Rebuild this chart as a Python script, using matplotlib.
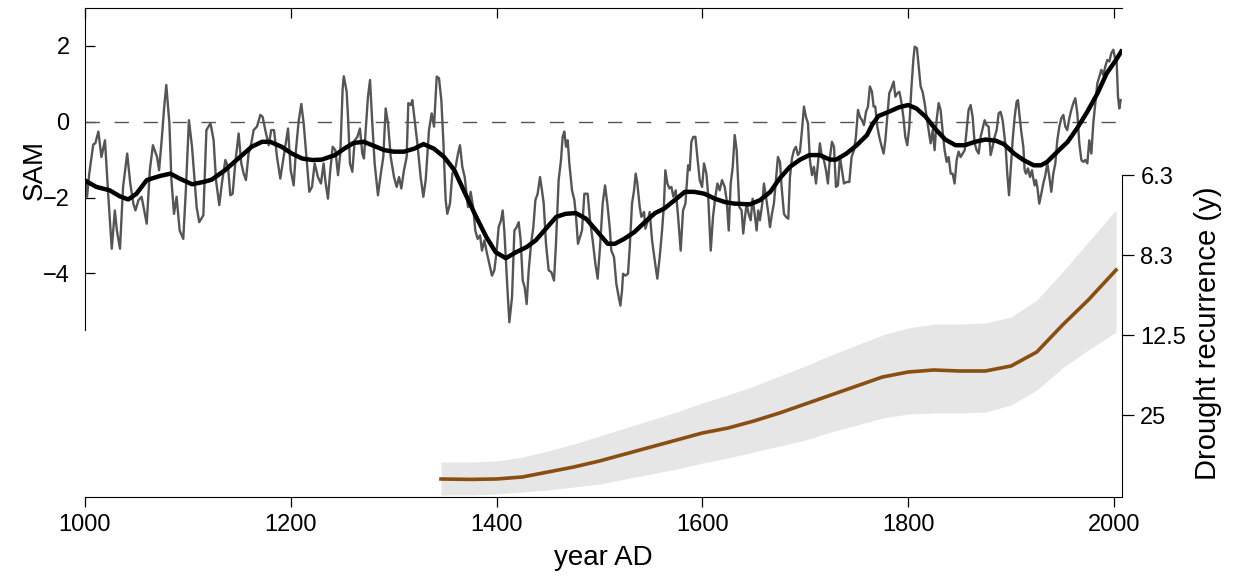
import numpy as np
import matplotlib
matplotlib.use('Agg')
from matplotlib import pyplot as plt

plt.rcParams['font.family'] = ['Liberation Sans', 'DejaVu Sans']
plt.rcParams['lines.scale_dashes'] = False

# SAM reconstruction (gray, high frequency)
sam_years = [1000.5, 1002, 1004, 1008, 1010, 1013, 1016, 1019.4, 1022.7, 1026, 1029, 1031, 1034, 1037, 1041,
             1044, 1047, 1049, 1052, 1055, 1060, 1063, 1066, 1070, 1072, 1074.5, 1077, 1079, 1082, 1084,
             1086.5, 1089, 1092, 1095.5, 1098, 1101, 1104, 1108.5, 1111, 1115, 1118, 1122,
             1125, 1127.3, 1130.5, 1133, 1136.4, 1139, 1141.2, 1143.5, 1146, 1149.3, 1151.9, 1154.2, 1156.4,
             1159, 1161.6, 1163.9, 1167.1, 1170.4, 1172.6, 1175.2, 1178.5, 1181, 1183.7, 1186.6, 1189.8,
             1192.1, 1194.7, 1197.3, 1199.9, 1202.8, 1205, 1207.6, 1210.2, 1212.5, 1215.7, 1218, 1220.6,
             1223.2, 1226.4, 1229.3, 1231.9, 1233.5, 1236.1, 1238.4, 1240.7, 1243.3, 1245.9, 1248.1, 1250.4,
             1251.5, 1254.3, 1255.6, 1257.5, 1259.8, 1262.1, 1264.7, 1267.2, 1269.5, 1271.1, 1272.8, 1275,
             1277, 1279.2, 1281.5, 1284.7, 1287.3, 1289.9, 1292.2, 1294.5, 1297.1, 1300.3, 1302.9, 1305.2,
             1307.4, 1310, 1312.6, 1314.2, 1316.5, 1318.1, 1320.4, 1323, 1326.2, 1328.8, 1331.1, 1334.3,
             1336.9, 1339.2, 1341.8, 1344, 1346.3, 1348.2, 1350.5, 1352.1, 1354.7, 1357, 1360.2, 1362.5,
             1364.4, 1366.7, 1369, 1372.2, 1374.8, 1377.4, 1379.3,
             1381.6, 1383.9, 1385.8, 1388.1, 1390.4, 1393, 1395.5, 1397.8, 1400.1, 1402, 1404.3, 1405.9,
             1407.5, 1409.2, 1410.8, 1412.4, 1415, 1417.3, 1419.5, 1421.5, 1423.4, 1425.4, 1427.3, 1429.2,
             1431.2, 1433.5, 1435.7, 1437.7, 1439.9, 1442.2, 1444.1, 1445.8, 1448, 1450.6, 1453.2, 1455.8,
             1457.7, 1460.3, 1462.6, 1464.2, 1465.8, 1467.5, 1469.1, 1470.7, 1473.3, 1475.6, 1477.2, 1479.1,
             1481.1, 1483, 1485.3, 1488.5, 1490.8, 1493.4, 1496, 1498.2, 1500.5, 1503.1, 1505.4, 1507.6,
             1509.9, 1511.5, 1514.1, 1516.4, 1518.7, 1520.3, 1521.9, 1522.9, 1525.1, 1527.7, 1529.4, 1531.6,
             1533.6, 1535.2, 1536.8, 1539.1, 1540.7, 1543.3, 1544.6, 1546.5, 1548.8, 1551.1, 1553.7, 1556.2,
             1558.5, 1560.8, 1562.7, 1564, 1566, 1567.9, 1569.9, 1571.8, 1574.1, 1576.3, 1578.9, 1581.2,
             1583.5, 1586.1, 1587.7, 1589.3, 1591.2, 1593.2, 1595.1, 1597.4, 1599.7, 1601.6, 1603.9, 1605.5,
             1608.1, 1610.3, 1612.6, 1614.6, 1616.8, 1619.1, 1621.7, 1623.6, 1625.6, 1627.5, 1629.5, 1631.4,
             1633.3, 1635.9,
             1638.1, 1639.7, 1641.4, 1643, 1644.9, 1646.9, 1648.8, 1650.8, 1652.7, 1654.3, 1655.9, 1658.2,
             1659.8, 1661.8, 1663.7, 1665.7, 1667.6, 1669.5, 1671.5, 1673.4, 1675.4, 1677, 1679.3, 1681.2,
             1683.5, 1685.1, 1687, 1689, 1690.9, 1692.9, 1694.8, 1696.8, 1698.7, 1700.6, 1702.6, 1704.5,
             1706.5, 1708.4, 1710.4, 1712.3, 1714.2, 1716.2, 1718.1, 1720.1, 1722, 1724, 1725.9, 1727.9,
             1729.8, 1731.7, 1733.7, 1735.6, 1737.6, 1740.2, 1742.8, 1745, 1747.3, 1749.2, 1751.2, 1753.1,
             1755.1, 1757, 1759, 1760.9, 1762.8,
             1764.8, 1766.4, 1768, 1770, 1771.9, 1773.9, 1776.1, 1777.8, 1779.7, 1781.6, 1783.6, 1785.9,
             1787.5, 1789.4, 1791.4, 1793.3, 1795.3, 1797.2, 1799.1, 1801.1, 1803, 1805, 1806.3, 1808.5,
             1810.2, 1812.1, 1814, 1816, 1817.9, 1819.9, 1821.8, 1823.8, 1825.7, 1827.6, 1829.6, 1831.5,
             1833.5, 1835.4, 1837.4, 1839.3, 1841.3, 1843.2, 1845.1, 1847.1, 1849, 1851, 1852.9, 1854.9,
             1856.8, 1858.7, 1860.7, 1862.6, 1864.6, 1866.5, 1868.5, 1870.4, 1872.4, 1874.3, 1876.2, 1878.2,
             1880.1, 1882.1, 1884, 1886, 1887.9, 1889.8, 1891.8,
             1894.7, 1896.3, 1898, 1899.6, 1901.5, 1903.5, 1905.4, 1906.7, 1908, 1909.9, 1911.9, 1913.2,
             1914.5, 1916.4, 1918.4, 1920.3, 1921.6, 1922.9, 1924.2, 1925.5, 1927.4, 1929.4, 1931.3, 1933.3,
             1935.2, 1937.2, 1939.1, 1941, 1943, 1944.9, 1946.9, 1948.8, 1950.8, 1952.7, 1954.6, 1956.6,
             1958.5, 1960.5, 1962.4, 1964.4, 1966.3, 1968.3, 1970.2, 1972.1, 1974.1, 1976, 1978, 1979.9,
             1981.9, 1983.8, 1985.7, 1987.7, 1989.6, 1991.6, 1993.5, 1995.5, 1997.4, 1999.4, 2001.3, 2002.6,
             2003.9, 2005.2, 2006.5]
sam_values = [-1.55, -1.98, -1.4, -0.6, -0.57, -0.26, -0.93, -0.49, -1.98, -3.35, -2.34, -2.87, -3.35, -1.72, -0.84,
              -1.63, -2.16, -2.34, -2.07, -1.98, -2.69, -1.28, -0.62, -0.93, -1.28, -0.49, 0.40, 0.97, -0.04, -1.54,
              -2.43, -1.98, -2.87, -3.09, -1.81, 0.04, -0.66, -2.25, -2.65, -2.47, -0.22, -0.04,
              -0.49, -1.54, -2.20, -1.63, -1.01, -1.19, -1.94, -1.90, -1.10, -0.31, -1.10, -1.37, -1.54,
              -0.84, -0.57, -0.22, -0.13, 0.18, 0.13, -0.22, -0.62, -0.22, -0.22, -0.93, -1.50,
              -1.10, -0.66, -0.18, -1.28, -1.68, -0.75, 0.0, 0.47, -0.04, -1.10, -1.85, -1.72,
              -1.10, -1.46, -1.63, -1.10, -1.54, -2.03, -1.28, -0.66, -0.75, -1.41, -0.84, 0.88,
              1.2, 0.79, 0.13, -1.10, -1.32, -0.49, -0.40, -0.18, -0.84, -0.97, -0.22, 0.66,
              1.10, -0.04, -1.10, -1.94, -1.41, -0.93, 0.35, -0.04, -0.93, -1.46, -1.72, -1.46,
              -1.76, -1.28, -0.93, 0.49, 0.44, 0.57, 0.04, -0.57, -1.46, -1.98, -1.54, -0.22,
              0.22, -0.13, 1.19, 1.15, 0.57, -0.49, -2.07, -2.43, -2.16, -1.37, -1.19, -0.84,
              -0.62, -1.19, -1.46, -2.25, -1.85, -2.29, -2.87,
              -3.09, -3.00, -3.40, -3.13, -3.44, -3.75, -4.06, -3.92, -3.40, -2.78, -2.60, -2.34,
              -2.87, -3.75, -4.54, -5.29, -4.63, -2.87, -2.78, -2.65, -3.13, -4.19, -4.37, -4.81,
              -3.92, -3.22, -2.78, -2.07, -1.90, -1.46, -1.81, -2.16, -3.22, -3.92, -3.97, -4.19,
              -3.22, -1.54, -1.01, -0.40, -0.26, -0.66, -0.49, -1.10, -1.81, -2.07, -2.51, -3.22,
              -3.04, -2.87, -1.90, -1.90, -2.60, -3.13, -3.75, -4.14, -3.31, -2.16, -1.68, -2.16,
              -2.78, -3.40, -3.57, -4.28, -4.63, -4.85, -4.45, -4.01, -4.06, -4.01, -3.31, -2.16,
              -1.81, -1.37, -1.63, -2.25, -2.51, -2.38, -2.82, -2.65, -2.38, -3.13, -3.66, -4.14,
              -3.57, -2.87, -2.16, -1.28, -1.63, -1.76, -1.72, -1.98, -1.81, -2.47, -3.40, -2.34,
              -2.16, -1.15, -1.28, -0.53, -0.40, -0.40, -0.93, -1.54, -1.72, -1.10, -1.37, -1.90,
              -3.40, -2.51, -1.98, -1.63, -1.81, -1.54, -1.72, -2.07, -2.87, -1.63, -1.19, -0.35,
              -0.75, -2.25,
              -2.34, -2.95, -2.51, -2.16, -2.43, -2.60, -2.03, -2.43, -2.87, -2.34, -2.60, -2.16,
              -1.63, -1.98, -2.34, -2.78, -2.43, -2.16, -1.54, -0.93, -1.06, -1.72, -2.43, -2.51,
              -2.56, -1.46, -0.97, -0.75, -0.66, -0.88, -0.79, -0.22, 0.40, 0.13, -0.04, -1.01,
              -1.41, -1.19, -1.63, -1.10, -0.57, -0.93, -1.01, -1.28, -1.63, -0.93, -0.53, -0.66,
              -1.72, -1.68, -0.93, -1.28, -1.63, -1.59, -1.59, -0.93, -0.75, -0.40, 0.31, 0.13,
              0.04, -0.09, 0.26, 0.40, 0.93,
              0.79, 0.40, 0.40, -0.13, -0.40, -0.62, -0.84, -0.49, 0.13, 0.75, 0.88, 1.06,
              0.66, 0.75, 0.79, 0.53, 0.13, -0.40, -0.62, -0.13, 0.84, 1.63, 1.98, 1.94,
              1.46, 0.93, 0.79, 0.49, 0.13, -0.22, -0.57, -0.22, -0.75, 0.04, 0.49, 0.31,
              -0.26, -0.75, -1.06, -0.93, -1.37, -1.37, -1.63, -1.01, -0.79, -0.93, -0.84, -0.75,
              -0.22, 0.31, 0.44, 0.13, -0.57, -0.75, -0.84, -0.40, -0.18, 0.04, -0.09, -0.13,
              -0.88, -0.66, -0.40, -0.22, 0.22, 0.26, 0.04,
              -0.66, -1.37, -1.94, -1.28, -0.49, 0.13, 0.53, 0.57, 0.22, -0.26, -0.66, -1.28,
              -1.37, -1.23, -1.46, -1.28, -1.50, -1.68, -1.54, -1.72, -2.16, -1.90, -1.63, -1.41,
              -1.10, -1.46, -1.85, -1.37, -1.10, -0.49, -0.13, 0.09, 0.18, -0.13, -0.22, 0.09,
              0.31, 0.49, 0.62, 0.22, -0.57, -1.01, -1.06, -1.01, -1.10, -0.49, -0.84, -0.04,
              0.49, 1.01, 1.19, 1.37, 1.23, 1.46, 1.63, 1.59, 1.81, 1.90, 1.63, 1.59,
              0.66, 0.35, 0.57]

# smoothed SAM (black)
smooth_years = [1000, 1011, 1024, 1034, 1042, 1050, 1060, 1073, 1083, 1092, 1104, 1115, 1123, 1136, 1149,
                1162, 1172, 1180, 1191, 1201, 1211, 1221, 1230, 1243, 1252, 1261, 1271, 1281, 1291, 1300,
                1310, 1320, 1329, 1339, 1349, 1359, 1368, 1380, 1390, 1399, 1409, 1419, 1429, 1438, 1448,
                1458, 1467, 1477, 1487, 1497, 1508, 1515, 1524, 1534, 1544, 1554, 1563, 1573, 1583, 1592,
                1602, 1612, 1622, 1631, 1646, 1656, 1666, 1675, 1685, 1695, 1704, 1714, 1724, 1730, 1740,
                1750, 1760, 1765, 1771, 1781, 1791, 1800, 1808, 1817, 1826, 1836, 1846, 1855, 1865, 1875,
                1885, 1893, 1903, 1912, 1922, 1929, 1935, 1945, 1955, 1964, 1974, 1984, 1993, 2002, 2007]
smooth_values = [-1.55, -1.72, -1.81, -1.97, -2.05, -1.90, -1.54, -1.43, -1.37, -1.50, -1.65, -1.59, -1.53, -1.28, -0.97,
                 -0.66, -0.53, -0.53, -0.66, -0.84, -0.97, -1.01, -1.00, -0.88, -0.71, -0.56, -0.53, -0.64, -0.75, -0.79,
                 -0.79, -0.71, -0.59, -0.71, -0.93, -1.28, -1.81, -2.50, -3.04, -3.44, -3.60, -3.44, -3.31, -3.13, -2.82,
                 -2.51, -2.43, -2.41, -2.56, -2.87, -3.22, -3.22, -3.09, -2.91, -2.65, -2.41, -2.29, -2.07, -1.85, -1.85,
                 -1.90, -2.03, -2.12, -2.16, -2.18, -2.07, -1.85, -1.50, -1.19, -1.00, -0.88, -0.88, -1.00, -1.00, -0.84,
                 -0.62, -0.35, -0.08, 0.15, 0.26, 0.38, 0.44, 0.35, 0.13, -0.18, -0.47, -0.62, -0.62, -0.53, -0.47,
                 -0.50, -0.59, -0.84, -1.01, -1.15, -1.15, -1.06, -0.79, -0.53, -0.18, 0.26, 0.75, 1.28, 1.63, 1.85]

# drought frequency (1/recurrence) with uncertainty band
drought_years = [1346, 1375, 1400, 1425, 1450, 1475, 1500, 1525, 1550, 1575, 1600, 1625, 1650, 1675,
                 1700, 1725, 1750, 1775, 1800, 1825, 1850, 1875, 1900, 1925, 1950, 1975, 2002]
drought_freq = [0.008, 0.0078, 0.008, 0.009, 0.0115, 0.014, 0.017, 0.0205, 0.024, 0.0275, 0.031, 0.0335,
                0.037, 0.041, 0.0455, 0.050, 0.0545, 0.059, 0.0615, 0.0625, 0.062, 0.062, 0.0645, 0.0715,
                0.085, 0.0975, 0.1125]
drought_hi = [0.0165, 0.0165, 0.017, 0.019, 0.022, 0.0255, 0.0295, 0.0335, 0.0375, 0.0415, 0.046, 0.050,
              0.0545, 0.0595, 0.0645, 0.070, 0.075, 0.080, 0.0835, 0.0855, 0.0855, 0.086, 0.089, 0.0975,
              0.1115, 0.1265, 0.1425]
drought_lo = [0.0, 0.0, 0.0005, 0.0015, 0.0025, 0.004, 0.0055, 0.008, 0.0105, 0.013, 0.016, 0.0185,
              0.0215, 0.0245, 0.0275, 0.0315, 0.035, 0.0385, 0.0405, 0.041, 0.041, 0.0415, 0.045, 0.0525,
              0.0635, 0.0725, 0.0815]

recur_ticks = [0.04, 0.08, 0.12, 0.16]
recur_labels = ['25', '12.5', '8.3', '6.3']
year_ticks = [1000, 1200, 1400, 1600, 1800, 2000]
sam_ticks = [-4, -2, 0, 2]

fig = plt.figure(figsize=(12.33, 5.76), dpi=100)
ax = fig.add_axes([85 / 1233, 79 / 576, 1036.7 / 1233, 489 / 576])

ax.axhline(0, color='#555555', lw=1.0, ls=(0, (10.3, 10.6)))
ax.plot(sam_years, sam_values, color='#555555', lw=1.7)
ax.plot(smooth_years, smooth_values, color='black', lw=3.2)

ax.set_xlim(1000, 2007.5)
ax.set_ylim(-9.9, 3.0)
ax.set_xticks(year_ticks)
ax.set_yticks(sam_ticks)
ax.spines['right'].set_visible(False)
ax.spines['top'].set_visible(False)
ax.spines['left'].set_bounds(-5.5, 3.0)
ax.tick_params(axis='x', direction='out', length=7.2, width=0.9, labelsize=17, pad=5)
ax.tick_params(axis='y', direction='in', length=7.2, width=0.9, labelsize=17, pad=11)
ax.set_xlabel('year AD', fontsize=20, va='center')
ax.xaxis.set_label_coords(0.5, -0.125)
ax.set_ylabel('SAM', fontsize=20, va='center')
ax.yaxis.set_label_coords(-0.048, 0.669)

top = ax.secondary_xaxis('top')
top.set_xticks(year_ticks)
top.tick_params(direction='in', length=7.2, width=0.9, labeltop=False)

ax2 = ax.twinx()
ax2.fill_between(drought_years, drought_lo, drought_hi, color='#e6e6e6', lw=0)
ax2.plot(drought_years, drought_freq, color='#8a4e12', lw=2.6)
ax2.set_ylim(-0.001, 0.2435)
ax2.set_yticks(recur_ticks)
ax2.set_yticklabels(recur_labels)
for s in ['left', 'top', 'bottom']:
    ax2.spines[s].set_visible(False)
ax2.spines['right'].set_bounds(-0.001, 0.16)
ax2.tick_params(axis='y', direction='out', length=8.4, width=0.9, labelsize=17, pad=5)
ax2.set_ylabel('Drought recurrence (y)', fontsize=21, va='center')
ax2.yaxis.set_label_coords(1.0833, 0.335)

fig.savefig('out.png', dpi=100)
